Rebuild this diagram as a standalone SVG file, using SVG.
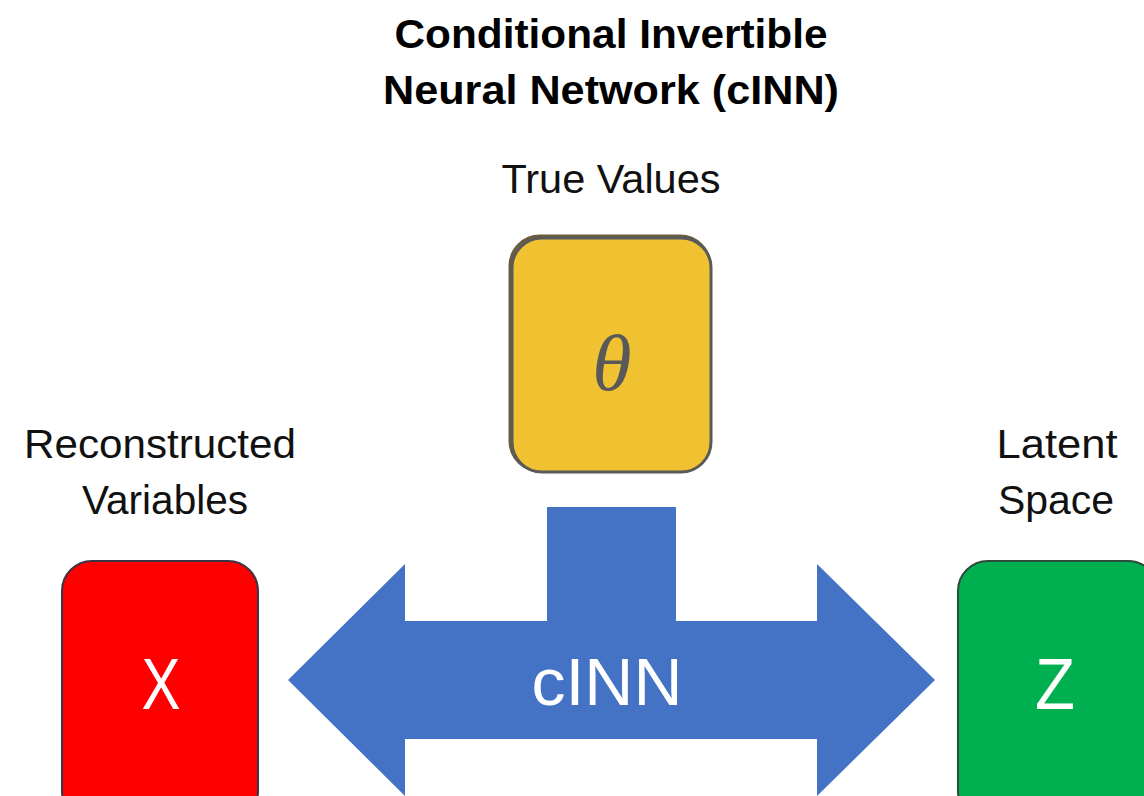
<svg xmlns="http://www.w3.org/2000/svg" width="1144" height="796" viewBox="0 0 1144 796">
  <style>
    .title { font-family: "Liberation Sans", Arial, sans-serif; font-weight: bold; font-size: 41px; fill: #000; text-anchor: middle; }
    .label { font-family: "Liberation Sans", Arial, sans-serif; font-size: 41px; fill: #111; text-anchor: middle; }
    .box-letter { font-family: "Liberation Sans", Arial, sans-serif; font-size: 72px; fill: #fff; text-anchor: middle; }
    .theta { font-family: "Liberation Serif", "Times New Roman", serif; font-style: italic; font-size: 80px; fill: #595959; text-anchor: middle; }
    .arrow-text { font-family: "Liberation Sans", Arial, sans-serif; font-size: 66px; fill: #fff; text-anchor: middle; }
  </style>

  <rect width="1144" height="796" fill="#ffffff"/>

  <!-- heading -->
  <g id="title">
    <text class="title" x="611" y="48" textLength="433" lengthAdjust="spacingAndGlyphs">Conditional Invertible</text>
    <text class="title" x="611" y="104" textLength="456" lengthAdjust="spacingAndGlyphs">Neural Network (cINN)</text>
  </g>

  <!-- conditioning input -->
  <g id="node-theta">
    <text class="label" x="611" y="193" textLength="219" lengthAdjust="spacingAndGlyphs">True Values</text>
    <rect x="510" y="236" width="200" height="235" rx="30" ry="30" fill="#d9a92c" stroke="#6a5c3a" stroke-width="3"/>
    <rect x="512" y="238" width="199" height="234" rx="30" ry="30" fill="#f0c232" stroke="#5a5a5a" stroke-width="3"/>
    <text class="theta" x="612" y="390">θ</text>
  </g>

  <!-- reconstructed variables -->
  <g id="node-x">
    <text class="label" x="160" y="458" textLength="272" lengthAdjust="spacingAndGlyphs">Reconstructed</text>
    <text class="label" x="165" y="514" textLength="166" lengthAdjust="spacingAndGlyphs">Variables</text>
    <rect x="62" y="561" width="196" height="260" rx="30" ry="30" fill="#ff0000" stroke="#3b3346" stroke-width="2"/>
    <text class="box-letter" x="161" y="709" textLength="39" lengthAdjust="spacingAndGlyphs">X</text>
  </g>

  <!-- latent space -->
  <g id="node-z">
    <text class="label" x="1057" y="458" textLength="121" lengthAdjust="spacingAndGlyphs">Latent</text>
    <text class="label" x="1056" y="514" textLength="116" lengthAdjust="spacingAndGlyphs">Space</text>
    <rect x="958" y="561" width="200" height="260" rx="30" ry="30" fill="#00b050" stroke="#2d4a3a" stroke-width="2"/>
    <text class="box-letter" x="1055" y="709" textLength="40" lengthAdjust="spacingAndGlyphs">Z</text>
  </g>

  <!-- bidirectional cINN block arrow with conditioning stem -->
  <g id="connectors">
    <polygon fill="#4472c4" points="288,680 405,564 405,621 547,621 547,507 676,507 676,621 817,621 817,564 935,680 817,796 817,739 405,739 405,796"/>
    <text class="arrow-text" x="607" y="705" textLength="151" lengthAdjust="spacingAndGlyphs">cINN</text>
  </g>
</svg>
